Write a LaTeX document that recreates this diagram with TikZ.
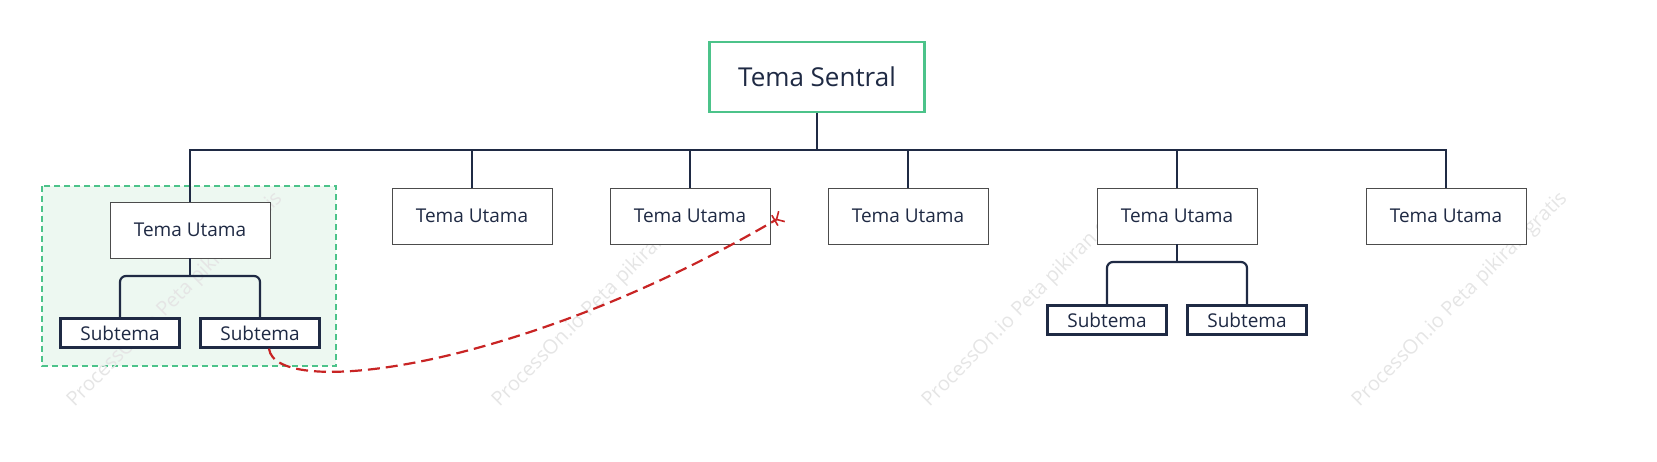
\documentclass[tikz,border=0pt]{standalone}
\usepackage{fontspec}
\setmainfont{Open Sans}
\usetikzlibrary{arrows.meta}
\definecolor{navy}{HTML}{1F2A44}
\definecolor{grn}{HTML}{4CC38A}
\definecolor{lgrn}{HTML}{EDF8F1}
\definecolor{rd}{HTML}{C82424}
\begin{document}
\begin{tikzpicture}[x=1pt,y=-1pt,
  main/.style={draw=black!70,line width=0.8pt,fill=white,minimum width=160pt,minimum height=56pt,inner sep=0pt,font=\fontsize{19}{22}\selectfont,text=navy},
  sub/.style={draw=navy,line width=2.2pt,fill=white,minimum width=119pt,minimum height=29pt,inner sep=0pt,font=\fontsize{19}{22}\selectfont,text=navy},
  conn/.style={draw=navy,line width=2.2pt},
  wm/.style={rotate=45,text=black!10,font=\fontsize{20}{24}\selectfont}]
\useasboundingbox (0,0) rectangle (1657,462);
\fill[lgrn] (42,186) rectangle (336,366);
\draw[grn,line width=1.8pt,dash pattern=on 6pt off 4pt] (42,186) rectangle (336,366);
\node[wm] (w1) at (175,300) {ProcessOn.io Peta pikiran gratis};
\node[wm] (w2) at (600,300) {ProcessOn.io Peta pikiran gratis};
\node[wm] (w3) at (1030,300) {ProcessOn.io Peta pikiran gratis};
\node[wm] (w4) at (1460,300) {ProcessOn.io Peta pikiran gratis};
\node[draw=grn,line width=2.2pt,fill=white,minimum width=215pt,minimum height=70pt,inner sep=0pt,font=\fontsize{26}{30}\selectfont,text=navy] (c) at (817,77) {Tema Sentral};
\node[main] (m1) at (190,230) {Tema Utama};
\node[main] (m2) at (472,216) {Tema Utama};
\node[main] (m3) at (690,216) {Tema Utama};
\node[main] (m4) at (908,216) {Tema Utama};
\node[main] (m5) at (1177,216) {Tema Utama};
\node[main] (m6) at (1446,216) {Tema Utama};
\node[sub] (s1) at (120,333) {Subtema};
\node[sub] (s2) at (260,333) {Subtema};
\node[sub] (s3) at (1107,320) {Subtema};
\node[sub] (s4) at (1247,320) {Subtema};
\coordinate (bus) at (817,150);
\draw[conn] (c.south) -- (bus);
\foreach \m in {m1,m2,m3,m4,m5,m6}{\draw[conn] (bus) -| (\m.north);}
\draw[conn,rounded corners=6pt] (s1.north) |- (190,276) -| (s2.north);
\draw[conn] (m1.south) -- (190,276);
\draw[conn,rounded corners=6pt] (s3.north) |- (1177,262) -| (s4.north);
\draw[conn] (m5.south) -- (1177,262);
\draw[rd,line width=2.2pt,dash pattern=on 12pt off 6pt,-{Bar[width=12pt,line width=1.6pt]Straight Barb[reversed,length=6pt,width=12pt,line width=1.6pt]}]
  ([xshift=9pt]s2.south) .. controls (275,400) and (520,370) .. ([xshift=12pt]m3.east);
\end{tikzpicture}
\end{document}
